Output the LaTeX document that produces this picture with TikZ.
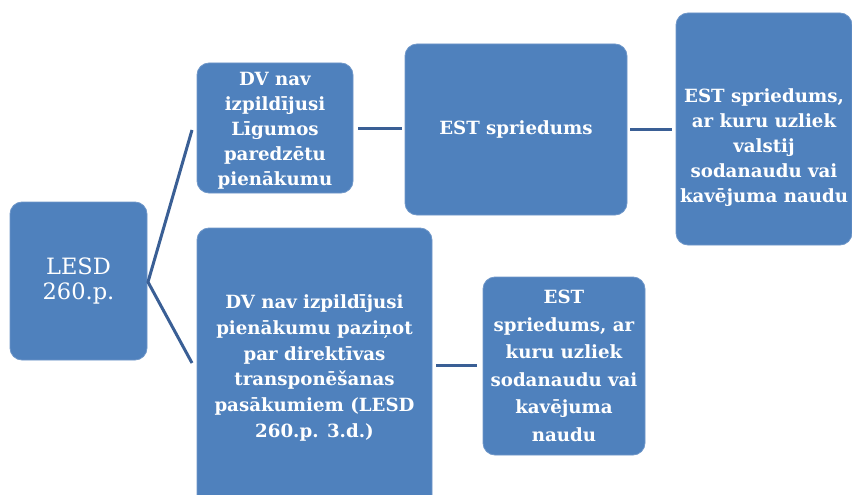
\documentclass[tikz,border=0pt]{standalone}
\usepackage{fontspec}
\setmainfont{DejaVu Serif}
\definecolor{boxblue}{HTML}{4F81BD}
\definecolor{boxedge}{HTML}{6F97C9}
\definecolor{linkblue}{HTML}{3A5F95}
\tikzset{
  blk/.style={fill=boxblue, draw=boxedge, line width=0.8pt, rounded corners=12pt,
    text=white, align=center, inner sep=0pt, font=\bfseries\fontsize{18.2}{25}\selectfont},
  txt/.style={text=white, align=center, inner sep=0pt, font=\bfseries\fontsize{18.2}{25}\selectfont},
  link/.style={draw=linkblue, line width=3pt}
}
\begin{document}
\begin{tikzpicture}[x=1pt,y=-1pt]
\useasboundingbox (0,0) rectangle (852,495);
\clip (0,0) rectangle (852,495);
\fill[white] (0,0) rectangle (852,495);
% boxes
\node[blk, minimum width=137pt, minimum height=158pt, font=\fontsize{22.5}{25}\selectfont] (lesd) at (78.5,281) {LESD\\260.p.};
\node[blk, minimum width=156pt, minimum height=130pt] (a) at (275,128) {};
\node[txt] (atext) at ([yshift=-3pt]a.center) {DV nav\\izpildījusi\\Līgumos\\paredzētu\\pienākumu};
\node[blk, minimum width=222pt, minimum height=171pt] (b) at (516,129.5) {EST spriedums};
\node[blk, minimum width=176pt, minimum height=232pt] (c) at (764,129) {};
\node[txt] (ctext) at ([yshift=-19pt]c.center) {EST spriedums,\\ar kuru uzliek\\valstij\\sodanaudu vai\\kavējuma naudu};
\node[blk, minimum width=235pt, minimum height=280pt, font=\bfseries\fontsize{18.2}{25.8}\selectfont] (d) at (314.5,368) {DV nav izpildījusi\\pienākumu paziņot\\par direktīvas\\transponēšanas\\pasākumiem (LESD\\260.p. 3.d.)};
\node[blk, minimum width=162pt, minimum height=178pt, font=\bfseries\fontsize{18.2}{27.5}\selectfont] (e) at (564,366) {EST\\spriedums, ar\\kuru uzliek\\sodanaudu vai\\kavējuma\\naudu};
% connectors
\coordinate (v) at (148,282);
\coordinate (at) at (192,130);
\coordinate (dt) at (192,363);
\draw[link] (at) -- (v) -- (dt);
\draw[link] ([xshift=5pt]a.east) -- ([xshift=-3pt]b.west |- a.east);
\draw[link] ([xshift=3pt]b.east) -- ([xshift=-4pt]c.west |- b.east);
\draw[link] ([xshift=4pt]d.east |- 0,365) -- ([xshift=-6pt]e.west |- 0,365);
\end{tikzpicture}
\end{document}
